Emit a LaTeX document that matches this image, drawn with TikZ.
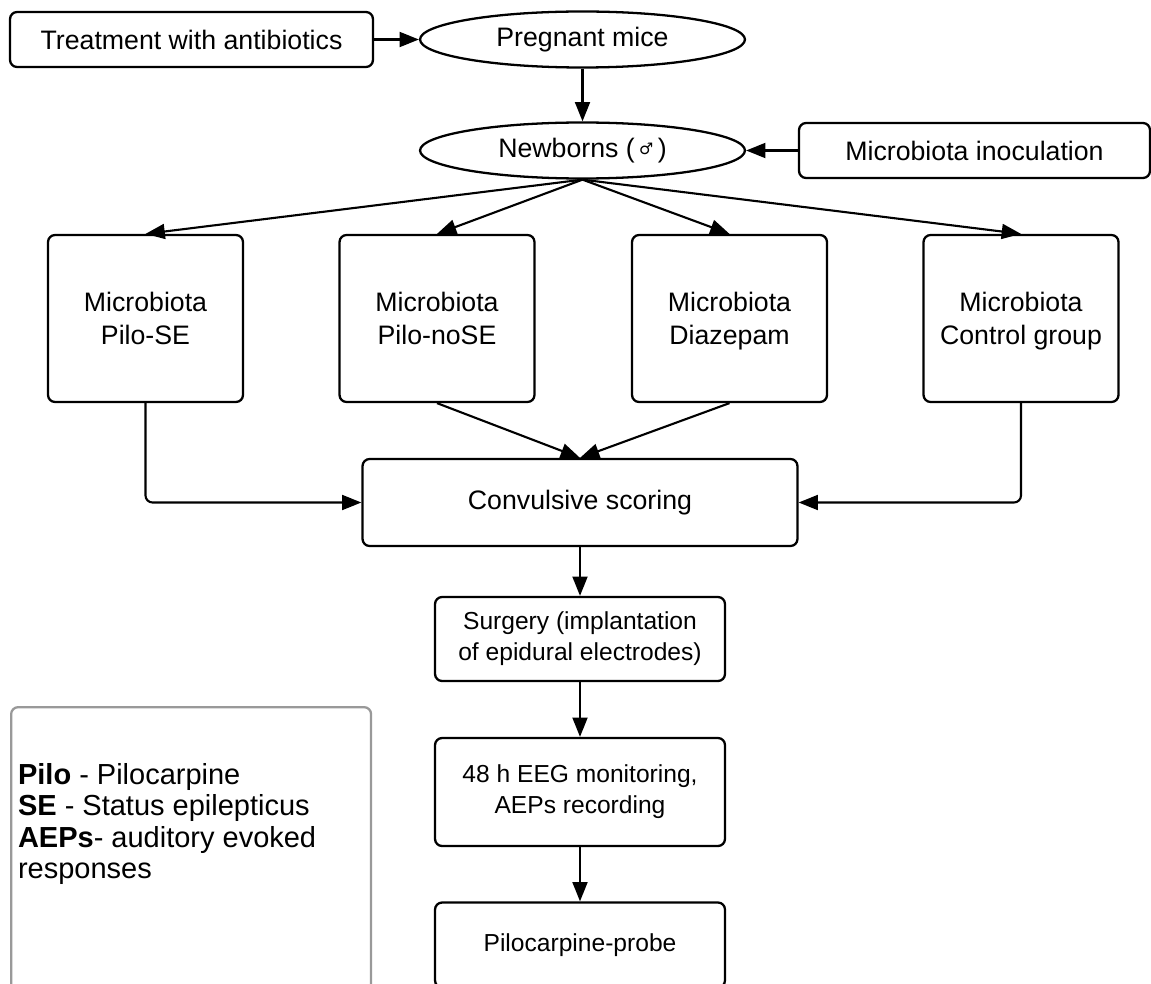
\documentclass[tikz,border=0pt]{standalone}
\usepackage{fontspec}
\setmainfont{Liberation Sans}
\newfontfamily\symfont{DejaVu Sans}
\usetikzlibrary{arrows.meta,shapes.geometric}

\begin{document}
\begin{tikzpicture}[>={Triangle[length=11pt,width=8.5pt]},x=0.02cm,y=-0.02cm,line width=1.2pt,
		box/.style={draw,line width=1.3pt,rounded corners=4pt,align=center,font=\fontsize{15.2}{18.5}\selectfont},
		oval/.style={draw,line width=1.3pt,ellipse,minimum width=6.5cm,minimum height=1.12cm,font=\fontsize{15.2}{18}\selectfont},
		group/.style={box,text depth=0pt,minimum width=3.9cm,minimum height=3.34cm},
		stepbox/.style={box,minimum width=5.8cm,font=\fontsize{14}{17.5}\selectfont}]
		\useasboundingbox (0,0) rectangle (1151,983);
		% top row
		\node[box,minimum width=7.26cm,minimum height=1.1cm] (treat) at (191.5,39.5) {Treatment with antibiotics};
		\node[oval] (preg) at (582.5,39.5) {Pregnant mice};
		\node[oval] (newb) at (582.5,150.5) {Newborns (\,\raisebox{1.5pt}{\symfont\fontsize{9}{9}\selectfont ♂}\,)};
		\node[box,minimum width=7.02cm,minimum height=1.1cm] (inoc) at (974.5,150.5) {Microbiota inoculation};
		% groups
		\node[group] (pse) at (145.5,318.5) {Microbiota\\Pilo-SE};
		\node[group] (pnose) at (437,318.5) {Microbiota\\Pilo-noSE};
		\node[group] (diaz) at (729.5,318.5) {Microbiota\\Diazepam};
		\node[group] (ctrl) at (1021,318.5) {Microbiota\\Control group};
		% protocol
		\node[box,minimum width=8.7cm,minimum height=1.74cm] (conv) at (580,502.5) {Convulsive scoring};
		\node[stepbox,minimum height=1.68cm] (surg) at (580,639) {Surgery (implantation\\of epidural electrodes)};
		\node[stepbox,minimum height=2.16cm] (eeg) at (580,792) {48 h EEG monitoring,\\AEPs recording};
		\node[stepbox,minimum height=1.7cm] (probe) at (580,945) {Pilocarpine-probe};
		% legend
		\node[draw=gray!80,line width=1.3pt,rounded corners=4pt,minimum width=7.2cm,minimum height=5.8cm,anchor=north west] (legbox) at (10,706) {};
		\node[anchor=north west,align=left,inner sep=0pt,font=\fontsize{16.5}{18}\selectfont] (legtext) at (17,762) {\textbf{Pilo} - Pilocarpine\\\textbf{SE} - Status epilepticus\\\textbf{AEPs}- auditory evoked\\responses};
		% arrows
		\draw[->] (treat) -- (preg);
		\draw[->] (preg) -- (newb);
		\draw[->] (inoc) -- (newb);
		\foreach \g in {pse,pnose,diaz,ctrl}
		\draw[->] (newb.south) -- (\g.north);
		\draw[->] (pnose.south) -- (conv.north);
		\draw[->] (diaz.south) -- (conv.north);
		\draw[->,rounded corners=4pt] (pse.south) |- (conv.west);
		\draw[->,rounded corners=4pt] (ctrl.south) |- (conv.east);
		\draw[->] (conv) -- (surg);
		\draw[->] (surg) -- (eeg);
		\draw[->] (eeg) -- (probe);
\end{tikzpicture}
\end{document}
